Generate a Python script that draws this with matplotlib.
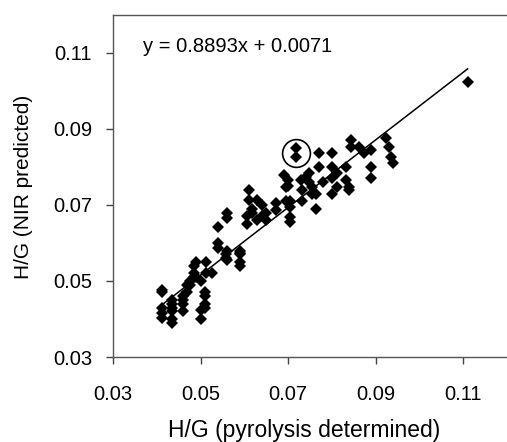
import numpy as np
import matplotlib
matplotlib.use("Agg")
import matplotlib.pyplot as plt

plt.rcParams['font.family'] = ['Liberation Sans', 'DejaVu Sans']

# H/G values (pyrolysis determined, NIR predicted)
x_pyro = [0.0411, 0.0411, 0.0411, 0.0411, 0.0411,
          0.0434, 0.0434, 0.0434, 0.0434, 0.0434, 0.0434,
          0.0460, 0.0460, 0.0460, 0.0460,
          0.0468, 0.0468, 0.0475, 0.0475,
          0.0486, 0.0486, 0.0486, 0.0490, 0.0490,
          0.0500, 0.0500, 0.0500,
          0.0510, 0.0510, 0.0510, 0.0510,
          0.0513, 0.0513, 0.0527,
          0.0539, 0.0539, 0.0539,
          0.0559, 0.0559, 0.0560, 0.0560, 0.0560, 0.0560,
          0.0589, 0.0589, 0.0589, 0.0589, 0.0589,
          0.0610, 0.0610, 0.0605, 0.0605, 0.0618, 0.0618,
          0.0630, 0.0640, 0.0640, 0.0650, 0.0650, 0.0628,
          0.0673, 0.0673,
          0.0690, 0.0695, 0.0695, 0.0700, 0.0700,
          0.0705, 0.0705, 0.0705, 0.0705,
          0.0718, 0.0718,
          0.0730, 0.0732, 0.0732, 0.0740, 0.0748, 0.0748,
          0.0755, 0.0755, 0.0763, 0.0763,
          0.0770, 0.0770, 0.0780,
          0.0800, 0.0800, 0.0800, 0.0800,
          0.0811, 0.0811, 0.0832, 0.0832, 0.0839, 0.0839,
          0.0843, 0.0843, 0.0861, 0.0873,
          0.0890, 0.0890, 0.0890,
          0.0923, 0.0930, 0.0934, 0.0940,
          0.1111]
y_nir = [0.0476, 0.0470, 0.0429, 0.0416, 0.0403,
         0.0450, 0.0440, 0.0430, 0.0420, 0.0400, 0.0390,
         0.0460, 0.0450, 0.0440, 0.0420,
         0.0490, 0.0470, 0.0500, 0.0490,
         0.0540, 0.0520, 0.0510, 0.0550, 0.0510,
         0.0500, 0.0425, 0.0400,
         0.0470, 0.0460, 0.0440, 0.0430,
         0.0550, 0.0520, 0.0520,
         0.0642, 0.0600, 0.0587,
         0.0570, 0.0560, 0.0680, 0.0666, 0.0580, 0.0555,
         0.0580, 0.0573, 0.0550, 0.0540, 0.0570,
         0.0740, 0.0713, 0.0670, 0.0650, 0.0690, 0.0680,
         0.0713, 0.0700, 0.0670, 0.0680, 0.0660, 0.0660,
         0.0705, 0.0687,
         0.0780, 0.0747, 0.0710, 0.0765, 0.0750,
         0.0710, 0.0695, 0.0668, 0.0655,
         0.0850, 0.0826,
         0.0766, 0.0740, 0.0710, 0.0774, 0.0785, 0.0760,
         0.0747, 0.0730, 0.0730, 0.0690,
         0.0837, 0.0800, 0.0760,
         0.0837, 0.0800, 0.0770, 0.0730,
         0.0785, 0.0747, 0.0800, 0.0766, 0.0747, 0.0739,
         0.0870, 0.0853, 0.0853, 0.0837,
         0.0845, 0.0800, 0.0770,
         0.0876, 0.0853, 0.0826, 0.0810,
         0.1024]

slope = 0.8893
intercept = 0.0071
fit_x = [0.0415, 0.1110]
circled = (0.0718, 0.0838)

ticks = [0.03, 0.05, 0.07, 0.09, 0.11]
tick_labels = ['0.03', '0.05', '0.07', '0.09', '0.11']

fig = plt.figure(figsize=(5.07, 4.42), dpi=100)
ax = fig.add_axes([0.2229, 0.1923, 0.7771, 0.7738])

ax.plot(x_pyro, y_nir, linestyle='none', marker='D', ms=6,
        color='black', markeredgewidth=0)
fx = np.array(fit_x)
ax.plot(fx, slope * fx + intercept, color='black', lw=1.1)
ax.plot(circled[0], circled[1], marker='o', ms=20, mfc='none',
        mec='black', mew=1.2)

ax.text(0.0368, 0.1116, 'y = 0.8893x + 0.0071', fontsize=14.5,
        ha='left', va='center')

ax.set_xlim(0.03, 0.12)
ax.set_ylim(0.03, 0.12)
ax.set_xticks(ticks)
ax.set_xticklabels(tick_labels)
ax.set_yticks(ticks)
ax.set_yticklabels(tick_labels)
ax.tick_params(direction='out', length=5, width=1, labelsize=14.5,
               colors='#444444', labelcolor='black')
ax.tick_params(axis='x', pad=15)
ax.tick_params(axis='y', pad=10)

ax.spines['right'].set_visible(False)
for s in ['left', 'top', 'bottom']:
    ax.spines[s].set_color('#555555')
    ax.spines[s].set_linewidth(1.0)

fig.text(0.5996, 5.5 / 442, 'H/G (pyrolysis determined)', fontsize=16.5,
         ha='center', va='baseline')
fig.text(24 / 507, 1 - 186.5 / 442, 'H/G (NIR predicted)', fontsize=15,
         ha='center', va='center', rotation=90)

fig.savefig('out.png', dpi=100)
